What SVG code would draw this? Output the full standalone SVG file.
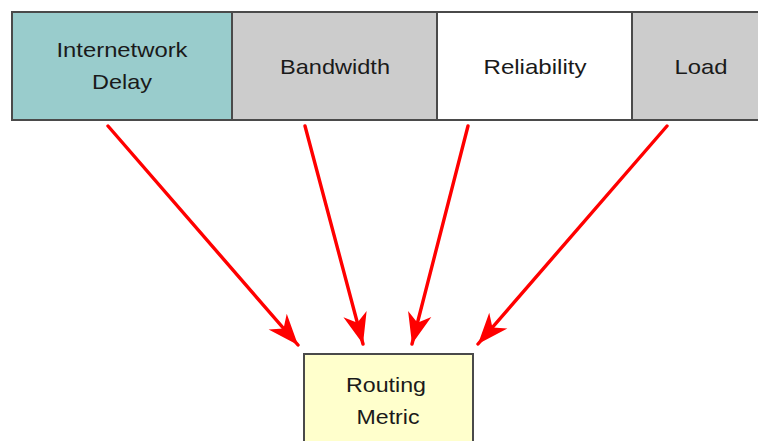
<svg xmlns="http://www.w3.org/2000/svg" width="758" height="441" viewBox="0 0 758 441">
  <style>
    .cell { stroke: #4a4a4a; stroke-width: 2; }
    .lbl { font-family: "Liberation Sans", Arial, sans-serif; font-size: 21px; fill: #1a1a1a; text-anchor: middle; }
    .arrow { stroke: #ff0000; stroke-width: 3.4; fill: none; stroke-linecap: round; marker-end: url(#head); }
  </style>
  <defs>
    <marker id="head" markerUnits="userSpaceOnUse" viewBox="-34 -16 36 32" refX="0" refY="0" markerWidth="36" markerHeight="32" orient="auto">
      <path d="M0,0 L-31,-12 L-22,0 L-31,12 Z" fill="#ff0000"/>
    </marker>
  </defs>
  <rect width="758" height="441" fill="#ffffff"/>

  <g id="internetwork-delay">
    <rect class="cell" x="12" y="12" width="220" height="108" fill="#99cccc"/>
    <text class="lbl" x="122" y="57" textLength="131" lengthAdjust="spacingAndGlyphs">Internetwork</text>
    <text class="lbl" x="122" y="89" textLength="60" lengthAdjust="spacingAndGlyphs">Delay</text>
  </g>
  <g id="bandwidth">
    <rect class="cell" x="232" y="12" width="205" height="108" fill="#cccccc"/>
    <text class="lbl" x="335" y="74" textLength="110" lengthAdjust="spacingAndGlyphs">Bandwidth</text>
  </g>
  <g id="reliability">
    <rect class="cell" x="437" y="12" width="195" height="108" fill="#ffffff"/>
    <text class="lbl" x="535" y="74" textLength="103" lengthAdjust="spacingAndGlyphs">Reliability</text>
  </g>
  <g id="load">
    <rect class="cell" x="632" y="12" width="140" height="108" fill="#cccccc"/>
    <text class="lbl" x="701" y="74" textLength="53" lengthAdjust="spacingAndGlyphs">Load</text>
  </g>

  <g id="routing-metric">
    <rect class="cell" x="304" y="354" width="169" height="100" fill="#ffffcc"/>
    <text class="lbl" x="386" y="392" textLength="80" lengthAdjust="spacingAndGlyphs">Routing</text>
    <text class="lbl" x="388" y="424" textLength="63" lengthAdjust="spacingAndGlyphs">Metric</text>
  </g>

  <g id="connectors">
    <line class="arrow" x1="108" y1="126" x2="298" y2="345"/>
    <line class="arrow" x1="305" y1="126" x2="363" y2="344"/>
    <line class="arrow" x1="468" y1="126" x2="412" y2="344"/>
    <line class="arrow" x1="667" y1="126" x2="478" y2="344"/>
  </g>
</svg>
